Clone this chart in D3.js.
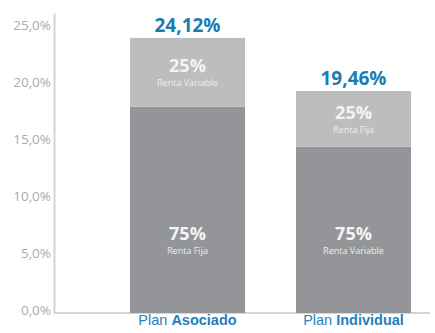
<!DOCTYPE html>
<html>
<head>
<meta charset="utf-8">
<script src="https://cdn.jsdelivr.net/npm/d3@7"></script>
<style>
  body { margin: 0; background: #fff; }
  svg { display: block; }
</style>
</head>
<body>
<div id="chart"></div>
<script>
const categories = ["Plan Asociado", "Plan Individual"];
const totals = [24.12, 19.46];
const lowerShare = [75, 75];
const upperShare = [25, 25];
const lowerNames = ["Renta Fija", "Renta Variable"];
const upperNames = ["Renta Variable", "Renta Fija"];
const tickValues = [0, 5, 10, 15, 20, 25];

const width = 435, height = 333;
const darkGray = "#939598", lightGray = "#bcbdbf", blue = "#1b7cb4";

const svg = d3.select("#chart").append("svg")
    .attr("width", width)
    .attr("height", height);

const y = d3.scaleLinear().domain([0, 26.3]).range([313, 13]);
const x = d3.scaleBand().domain(categories)
    .range([79, 462])
    .paddingInner(0.307)
    .paddingOuter(0.307);

// y axis
const yAxis = svg.append("g")
    .attr("transform", "translate(54,0)")
    .call(d3.axisLeft(y)
        .tickValues(tickValues)
        .tickSize(0)
        .tickPadding(3)
        .tickFormat(d => d.toFixed(1).replace(".", ",") + "%"));
yAxis.select(".domain").attr("stroke", "#d4d4d4").attr("stroke-width", 2);
yAxis.selectAll("text")
    .attr("fill", "#a9abae")
    .attr("dy", "0.1em")
    .style("font-family", "'Open Sans', sans-serif")
    .style("font-size", "13.5px");

// baseline
svg.append("line")
    .attr("x1", 54).attr("x2", 430)
    .attr("y1", y(0)).attr("y2", y(0))
    .attr("stroke", "#d4d4d4")
    .attr("stroke-width", 2);

const rows = categories.map((c, i) => ({
    cat: c,
    total: totals[i],
    lower: totals[i] * lowerShare[i] / 100,
    lowShare: lowerShare[i],
    upShare: upperShare[i],
    lowName: lowerNames[i],
    upName: upperNames[i]
}));

const bars = svg.append("g").selectAll("g")
    .data(rows)
    .join("g");

// lower segment
bars.append("rect")
    .attr("x", d => x(d.cat))
    .attr("width", x.bandwidth())
    .attr("y", d => y(d.lower))
    .attr("height", d => y(0) - y(d.lower))
    .attr("fill", darkGray);

// upper segment
bars.append("rect")
    .attr("x", d => x(d.cat))
    .attr("width", x.bandwidth())
    .attr("y", d => y(d.total))
    .attr("height", d => y(d.lower) - y(d.total))
    .attr("fill", lightGray);

const cx = d => x(d.cat) + x.bandwidth() / 2;

// totals above bars
bars.append("text")
    .attr("x", cx)
    .attr("y", d => y(d.total) - 6)
    .attr("text-anchor", "middle")
    .attr("fill", blue)
    .style("font-family", "'Open Sans', sans-serif")
    .style("font-weight", "bold")
    .style("font-size", "19px")
    .text(d => d.total.toFixed(2).replace(".", ",") + "%");

// upper segment labels
bars.append("text")
    .attr("x", cx)
    .attr("y", d => (y(d.total) + y(d.lower)) / 2)
    .attr("text-anchor", "middle")
    .attr("fill", "#f4f4f4")
    .style("font-family", "'Open Sans', sans-serif")
    .style("font-weight", "bold")
    .style("font-size", "18px")
    .text(d => d.upShare + "%");
bars.append("text")
    .attr("x", cx)
    .attr("y", d => (y(d.total) + y(d.lower)) / 2 + 14)
    .attr("text-anchor", "middle")
    .attr("fill", "#eeeeee")
    .style("font-family", "'Open Sans', sans-serif")
    .style("font-size", "9px")
    .text(d => d.upName);

// lower segment labels
bars.append("text")
    .attr("x", cx)
    .attr("y", y(6.4))
    .attr("text-anchor", "middle")
    .attr("fill", "#f4f4f4")
    .style("font-family", "'Open Sans', sans-serif")
    .style("font-weight", "bold")
    .style("font-size", "18px")
    .text(d => d.lowShare + "%");
bars.append("text")
    .attr("x", cx)
    .attr("y", y(6.4) + 14)
    .attr("text-anchor", "middle")
    .attr("fill", "#eeeeee")
    .style("font-family", "'Open Sans', sans-serif")
    .style("font-size", "9px")
    .text(d => d.lowName);

// category labels: "Plan" regular, second word bold
const catText = bars.append("text")
    .attr("x", cx)
    .attr("y", 325)
    .attr("text-anchor", "middle")
    .attr("fill", "#1f7fc1")
    .style("font-family", "'Liberation Sans', Arial, sans-serif")
    .style("font-size", "14.5px");
catText.append("tspan").text(d => d.cat.split(" ")[0] + " ");
catText.append("tspan")
    .style("font-weight", "bold")
    .text(d => d.cat.split(" ").slice(1).join(" "));
</script>
</body>
</html>
